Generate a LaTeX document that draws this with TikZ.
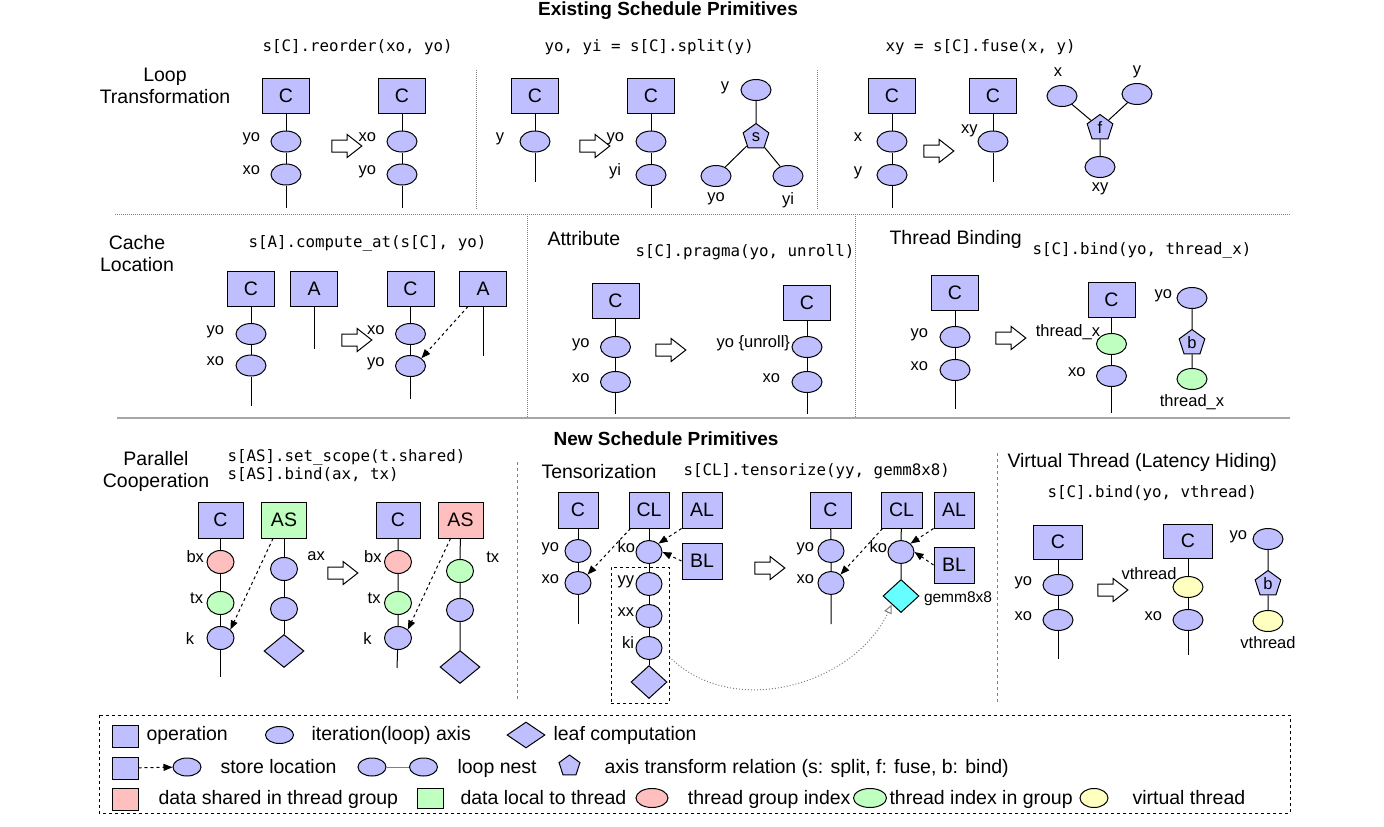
\documentclass[tikz,border=0pt]{standalone}
\usepackage{fontspec}
\setmainfont{Liberation Sans}
\setmonofont{DejaVu Sans Mono}
\usetikzlibrary{shapes.geometric,shapes.arrows,arrows.meta}
\definecolor{opblue}{RGB}{191,191,255}
\definecolor{locgreen}{RGB}{191,255,191}
\definecolor{shrred}{RGB}{255,191,191}
\definecolor{vthyellow}{RGB}{255,255,191}
\definecolor{gemmcyan}{RGB}{102,255,255}
\newcommand\lblfont{\fontsize{16.5}{18}\selectfont}
\newcommand\secfont{\fontsize{19.5}{22}\selectfont}
\newcommand\codefont{\ttfamily\fontsize{15.8}{18}\selectfont}
\tikzset{
  op/.style={draw, fill=opblue, minimum width=47pt, minimum height=35pt, inner sep=0pt, font=\secfont},
  ax/.style={draw, ellipse, fill=opblue, minimum width=30pt, minimum height=21pt, inner sep=0pt},
  axb/.style={ax, minimum width=27pt, minimum height=23pt},
  axt/.style={ax, minimum width=26pt, minimum height=23pt},
  leaf/.style={draw, diamond, fill=opblue, minimum width=40pt, minimum height=33pt, inner sep=0pt},
  rel/.style={draw, regular polygon, regular polygon sides=5, fill=opblue, minimum size=27pt, inner sep=0pt, font=\lblfont},
  lbl/.style={font=\lblfont, inner sep=0pt},
  lab/.style 2 args={label={[lbl, anchor=base east, label distance=#2]west:#1}},
  ttl/.style={font=\secfont, inner sep=0pt, align=center},
  lgt/.style={font=\secfont, inner sep=0pt, anchor=base west},
  code/.style={font=\codefont, inner sep=0pt, align=left},
  into/.style={single arrow, draw, fill=white, minimum height=30pt, inner xsep=0pt, inner ysep=5.5pt,
    single arrow head extend=5.5pt, single arrow tip angle=76},
  store/.style={dashed, -{Triangle[length=9pt, width=7pt]}},
  rowsep/.style={gray, densely dotted},
}
\begin{document}
\begin{tikzpicture}[x=1pt, y=-1pt, line width=1pt]
\useasboundingbox (0,0) rectangle (1384,827);

\node[ttl, font=\bfseries\fontsize{19}{22}\selectfont, anchor=base] (top) at (668,15) {Existing Schedule Primitives};
\node[ttl, font=\bfseries\fontsize{19}{22}\selectfont, anchor=base] (bot) at (666,445) {New Schedule Primitives};

% separators
\draw[rowsep] (115,214) -- (1290,214);
\draw[rowsep] (476,70) -- (476,210);
\draw[rowsep] (817,70) -- (817,210);
\draw[rowsep] (527,214) -- (527,418);
\draw[rowsep] (855,214) -- (855,418);
\draw[gray!70, line width=1.5pt] (117,418) -- (1290,418);
\draw[gray, dashed] (517,462) -- (517,700);
\draw[gray, dashed] (997,453) -- (997,705);

% loop transformation: reorder
\node[ttl] (loopt) at (165,86) {Loop\\Transformation};
\node[code, anchor=base west] (reo) at (262,51) {s[C].reorder(xo, yo)};
\node[op] (a1) at (286,95.5) {C};
\node[ax, lab={yo}{10pt}] (a1y) at (286,141.5) {};
\node[ax, lab={xo}{10pt}] (a1x) at (286,174.5) {};
\coordinate (a1e) at (286,208);
\draw (a1) -- (a1y) -- (a1x) -- (a1e);
\node[into] (a12) at (343,146) {};
\node[op] (a2) at (402,95.5) {C};
\node[ax, lab={xo}{10pt}] (a2x) at (402,141.5) {};
\node[ax, lab={yo}{10pt}] (a2y) at (402,174.5) {};
\coordinate (a2e) at (402,208);
\draw (a2) -- (a2x) -- (a2y) -- (a2e);

% split
\node[code, anchor=base west] (spl) at (544,51) {yo, yi = s[C].split(y)};
\node[op] (b1) at (535,95.5) {C};
\node[ax, lab={y}{15pt}] (b1y) at (535,141.5) {};
\coordinate (b1e) at (535,182);
\draw (b1) -- (b1y) -- (b1e);
\node[into] (b12) at (591,146) {};
\node[op] (b2) at (651,95.5) {C};
\node[ax, lab={yo}{11pt}] (b2o) at (651,141.5) {};
\node[ax, lab={yi}{14pt}] (b2i) at (651,175) {};
\coordinate (b2e) at (651,208);
\draw (b2) -- (b2o) -- (b2i) -- (b2e);
\node[ax, lab={y}{11pt}] (b3y) at (756,90) {};
\node[rel] (b3s) at (756,137) {s};
\node[ax, label={[lbl, label distance=5pt]below:yo}] (b3o) at (716,176) {};
\node[ax, label={[lbl, label distance=5pt]below:yi}] (b3i) at (788,176) {};
\draw (b3y) -- (b3s) (b3s) -- (b3o) (b3s) -- (b3i);

% fuse
\node[code, anchor=base west] (fus) at (885,51) {xy = s[C].fuse(x, y)};
\node[op] (c1) at (892,95.5) {C};
\node[ax, lab={x}{14pt}] (c1x) at (892,141.5) {};
\node[ax, lab={y}{14pt}] (c1y) at (892,175) {};
\coordinate (c1e) at (892,208);
\draw (c1) -- (c1x) -- (c1y) -- (c1e);
\node[into] (c12) at (935,151) {};
\node[op] (c2) at (993,95.5) {C};
\node[ax, label={[lbl, anchor=base east, xshift=-4pt]north west:xy}] (c2x) at (993,141.5) {};
\coordinate (c2e) at (993,182);
\draw (c2) -- (c2x) -- (c2e);
\node[ax, label={[lbl, label distance=8pt, xshift=-4pt]above:x}] (c3x) at (1062,96) {};
\node[ax, label={[lbl, label distance=5pt]above:y}] (c3y) at (1137,94) {};
\node[rel] (c3f) at (1100,128) {f};
\node[ax, label={[lbl, label distance=4pt]below:xy}] (c3xy) at (1100,167) {};
\draw (c3x) -- (c3f) (c3y) -- (c3f) (c3f) -- (c3xy);

% cache location: compute_at
\node[ttl] (cachet) at (137,254) {Cache\\Location};
\node[code, anchor=base west] (cat) at (248,247) {s[A].compute\_at(s[C], yo)};
\node[op] (d1) at (251,288.5) {C};
\node[ax, lab={yo}{11pt}] (d1y) at (251,334) {};
\node[ax, lab={xo}{11pt}] (d1x) at (251,365.5) {};
\coordinate (d1e) at (251,406);
\draw (d1) -- (d1y) -- (d1x) -- (d1e);
\node[op] (d2) at (314,288.5) {A};
\coordinate (d2e) at (314,349);
\draw (d2) -- (d2e);
\node[into] (d12) at (353,340) {};
\node[op] (d3) at (410.5,288.5) {C};
\node[ax, lab={xo}{10pt}] (d3x) at (410.5,334) {};
\node[ax, lab={yo}{10pt}] (d3y) at (410.5,366) {};
\coordinate (d3e) at (410.5,399);
\draw (d3) -- (d3x) -- (d3y) -- (d3e);
\node[op] (d4) at (483,288.5) {A};
\coordinate (d4e) at (483,356);
\draw (d4) -- (d4e);
\draw[store] ([xshift=9pt]d4.south west) -- (d3y.north east);

% attribute: pragma
\node[ttl, anchor=base west] (attrt) at (547,245) {Attribute};
\node[code, anchor=base west] (prg) at (635,256) {s[C].pragma(yo, unroll)};
\node[op] (e1) at (615.5,300.5) {C};
\node[ax, lab={yo}{10pt}] (e1y) at (615.5,347) {};
\node[ax, lab={xo}{10pt}] (e1x) at (615.5,382) {};
\coordinate (e1e) at (615.5,414);
\draw (e1) -- (e1y) -- (e1x) -- (e1e);
\node[into] (e12) at (667,350) {};
\node[op] (e2) at (807,302.5) {C};
\node[ax, lab={yo \{unroll\}}{1pt}] (e2y) at (807,347) {};
\node[ax, lab={xo}{11pt}] (e2x) at (807,382) {};
\coordinate (e2e) at (807,414);
\draw (e2) -- (e2y) -- (e2x) -- (e2e);

% thread binding
\node[ttl, anchor=base west] (bindt) at (889,244) {Thread Binding};
\node[code, anchor=base west] (bnd) at (1032,254) {s[C].bind(yo, thread\_x)};
\node[op] (f1) at (955,292.5) {C};
\node[ax, lab={yo}{11pt}] (f1y) at (955,337) {};
\node[ax, lab={xo}{11pt}] (f1x) at (955,370) {};
\coordinate (f1e) at (955,409);
\draw (f1) -- (f1y) -- (f1x) -- (f1e);
\node[into] (f12) at (1007,338) {};
\node[op] (f2) at (1111.5,300) {C};
\node[ax, fill=locgreen, label={[lbl, anchor=base east]north west:thread\_x}] (f2t) at (1111.5,344) {};
\node[ax, lab={xo}{10pt}] (f2x) at (1111.5,376) {};
\coordinate (f2e) at (1111.5,413);
\draw (f2) -- (f2t) -- (f2x) -- (f2e);
\node[ax, lab={yo}{4pt}] (f3y) at (1192,298) {};
\node[rel] (f3b) at (1192,343) {b};
\node[ax, fill=locgreen, label={[lbl, label distance=4pt]below:thread\_x}] (f3t) at (1192,379) {};
\draw (f3y) -- (f3b) -- (f3t);

% parallel cooperation
\node[ttl] (part) at (156,471) {Parallel\\Cooperation};
\node[code, anchor=north west] (scp) at (227,449) {s[AS].set\_scope(t.shared)\\s[AS].bind(ax, tx)};
\node[op, minimum width=45pt, minimum height=36pt] (g1) at (220.5,520) {C};
\node[axb, fill=shrred, lab={bx}{2pt}] (g1b) at (220.5,562) {};
\node[axb, fill=locgreen, lab={tx}{3pt}] (g1t) at (220.5,603) {};
\node[axb, label={[lbl, anchor=base east, label distance=12pt, yshift=-6pt]west:k}] (g1k) at (220.5,638) {};
\coordinate (g1e) at (220.5,677);
\draw (g1) -- (g1b) -- (g1t) -- (g1k) -- (g1e);
\node[op, fill=locgreen, minimum width=45pt, minimum height=36pt] (g2) at (284,520) {AS};
\node[axb, label={[lbl, anchor=base west, xshift=13pt]north east:ax}] (g2a) at (284,569) {};
\node[axb] (g2m) at (284,609) {};
\node[leaf] (g2d) at (284,651) {};
\draw (g2) -- (g2a) -- (g2m) -- (g2d);
\draw[store] ([xshift=12pt]g2.south west) -- (g1k.north east);
\node[into] (g12) at (339,573) {};
\node[op, minimum width=44pt, minimum height=36pt] (g3) at (398,520) {C};
\node[axb, fill=shrred, lab={bx}{2pt}] (g3b) at (398,562) {};
\node[axb, fill=locgreen, lab={tx}{3pt}] (g3t) at (398,603) {};
\node[axb, label={[lbl, anchor=base east, label distance=12pt, yshift=-6pt]west:k}] (g3k) at (398,638) {};
\coordinate (g3e) at (397,668);
\draw (g3) -- (g3b) -- (g3t) -- (g3k) -- (g3e);
\node[op, fill=shrred, minimum width=45pt, minimum height=36pt] (g4) at (460.5,520) {AS};
\node[axb, fill=locgreen, label={[lbl, anchor=base west, xshift=16pt]north east:tx}] (g4t) at (460,571) {};
\node[axb] (g4m) at (460,610) {};
\node[leaf] (g4d) at (460,667) {};
\draw (g4) -- (g4t) -- (g4m) -- (g4d);
\draw[store] ([xshift=13pt]g4.south west) -- (g3k.north east);

% tensorization
\node[ttl, anchor=base west] (tent) at (541,478) {Tensorization};
\node[code, anchor=base west] (tns) at (683,475) {s[CL].tensorize(yy, gemm8x8)};
\node[op, minimum width=40pt, minimum height=36pt] (h1) at (578,510) {C};
\node[axt, lab={yo}{5pt}] (h1y) at (578,551) {};
\node[axt, lab={xo}{5pt}] (h1x) at (578,583) {};
\coordinate (h1e) at (578,624);
\draw (h1) -- (h1y) -- (h1x) -- (h1e);
\node[op, minimum width=40pt, minimum height=36pt] (h2) at (649,510) {CL};
\node[axt, lab={ko}{0pt}] (h2k) at (649,552) {};
\node[axt, lab={yy}{1pt}] (h2y) at (649,584) {};
\node[axt, lab={xx}{1pt}] (h2x) at (649,616) {};
\node[axt, lab={ki}{1pt}] (h2i) at (649,648) {};
\node[leaf, minimum width=36pt] (h2d) at (649,682) {};
\draw (h2) -- (h2k) -- (h2y) -- (h2x) -- (h2i) -- (h2d);
\node[op, minimum width=40pt, minimum height=36pt] (h3) at (702,510) {AL};
\node[op, minimum width=40pt, minimum height=36pt] (h4) at (702,561) {BL};
\draw[store] ([xshift=2pt]h2.south west) -- (h1x.north east);
\draw[store] (h3.south west) -- (h2k.north east);
\draw[store] (h4.west) -- (h2k.east);
\node[draw, dashed, minimum width=58pt, minimum height=136pt, inner sep=0pt] (h2grp) at (640,635) {};
\node[into] (h12) at (766,568) {};
\node[op, minimum width=41pt, minimum height=36pt] (h5) at (830.5,510) {C};
\node[axt, lab={yo}{3pt}] (h5y) at (831,551) {};
\node[axt, lab={xo}{3pt}] (h5x) at (831,583) {};
\coordinate (h5e) at (831,624);
\draw (h5) -- (h5y) -- (h5x) -- (h5e);
\node[op, minimum width=41pt, minimum height=36pt] (h6) at (901.5,510) {CL};
\node[axt, lab={ko}{0pt}] (h6k) at (901,552) {};
\node[leaf, fill=gemmcyan, minimum width=36pt,
  label={[lbl, font=\fontsize{15.5}{17}\selectfont, anchor=base west, label distance=4pt, yshift=-6pt]east:gemm8x8}] (h6d) at (901,596) {};
\draw (h6) -- (h6k) -- (h6d);
\node[op, minimum width=40pt, minimum height=36pt] (h7) at (954,510) {AL};
\node[op, minimum width=40pt, minimum height=36pt] (h8) at (954,565) {BL};
\draw[store] ([xshift=2pt]h6.south west) -- (h5x.north east);
\draw[store] (h7.south west) -- (h6k.north east);
\draw[store] (h8.west) -- (h6k.east);
\draw[gray, dotted, -{Triangle[open, length=9pt, width=8pt]}] ([yshift=-22pt]h2grp.east) to[out=-45, in=-115] (h6d.south west);

% virtual thread
\node[ttl, anchor=base west] (vtt) at (1007,467) {Virtual Thread (Latency Hiding)};
\node[code, anchor=base west] (vbd) at (1047,497) {s[C].bind(yo, vthread)};
\node[op, minimum width=49pt, minimum height=34pt] (i1) at (1058,542) {C};
\node[ax, lab={yo}{10pt}] (i1y) at (1058,585) {};
\node[ax, lab={xo}{10pt}] (i1x) at (1058,620) {};
\coordinate (i1e) at (1058,659);
\draw (i1) -- (i1y) -- (i1x) -- (i1e);
\node[into] (i12) at (1109,590) {};
\node[op, minimum width=49pt, minimum height=34pt] (i2) at (1188,541) {C};
\node[ax, fill=vthyellow, label={[lbl, anchor=base east]north west:vthread}] (i2v) at (1188,587) {};
\node[ax, lab={xo}{10pt}] (i2x) at (1188,620) {};
\coordinate (i2e) at (1188,655);
\draw (i2) -- (i2v) -- (i2x) -- (i2e);
\node[ax, lab={yo}{5pt}] (i3y) at (1268,539) {};
\node[rel] (i3b) at (1268,584) {b};
\node[ax, fill=vthyellow, label={[lbl, label distance=4pt]below:vthread}] (i3v) at (1268,621) {};
\draw (i3y) -- (i3b) -- (i3v);

% legend
\draw[dashed] (99,715) rectangle (1290,813);
\node[op, minimum width=26pt, minimum height=22pt] (lgop) at (125,736) {};
\node[lgt] (lgopt) at (146,740) {operation};
\node[ax, minimum width=28pt, minimum height=17pt] (lgax) at (279.5,735) {};
\node[lgt] (lgaxt) at (311,740) {iteration(loop) axis};
\node[leaf, minimum width=38pt, minimum height=26pt] (lglf) at (526,735) {};
\node[lgt] (lglft) at (553,740) {leaf computation};
\node[op, minimum width=26pt, minimum height=22pt] (lgst) at (125,768) {};
\node[ax, minimum width=28pt, minimum height=18pt] (lgsa) at (187,767) {};
\draw[store] (lgst) -- (lgsa);
\node[lgt] (lgstt) at (220,773) {store location};
\node[ax, minimum width=28pt, minimum height=18pt] (lgn1) at (372,767) {};
\node[ax, minimum width=28pt, minimum height=18pt] (lgn2) at (423.5,767) {};
\draw[gray] (lgn1) -- (lgn2);
\node[lgt] (lgnt) at (457,773) {loop nest};
\node[rel, minimum size=22pt] (lgrl) at (569.5,766) {};
\node[lgt] (lgrlt) at (604,773) {axis transform relation (s: split, f: fuse, b: bind)};
\node[op, fill=shrred, minimum width=26pt, minimum height=22pt] (lgsh) at (125,799) {};
\node[lgt] (lgsht) at (158,804) {data shared in thread group};
\node[op, fill=locgreen, minimum width=26pt, minimum height=20pt] (lglc) at (430,798) {};
\node[lgt] (lglct) at (460,804) {data local to thread};
\node[ax, fill=shrred, minimum width=32pt, minimum height=19pt] (lgtg) at (652,798) {};
\node[lgt, anchor=base east] (lgtgt) at (851,804) {thread group index};
\node[ax, fill=locgreen, minimum width=33pt, minimum height=19pt] (lgti) at (870,798) {};
\node[lgt] (lgtit) at (889,804) {thread index in group};
\node[ax, fill=vthyellow, minimum width=28pt, minimum height=19pt] (lgvt) at (1094,798) {};
\node[lgt] (lgvtt) at (1132,804) {virtual thread};
\end{tikzpicture}
\end{document}
